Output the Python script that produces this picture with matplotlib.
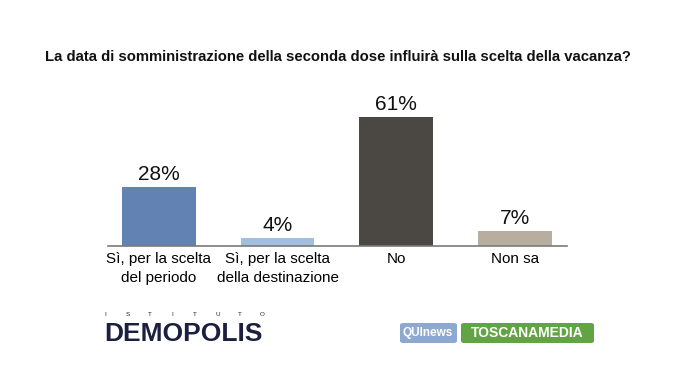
import matplotlib.pyplot as plt
from matplotlib.patches import FancyBboxPatch

categories = ['Sì, per la scelta\ndel periodo', 'Sì, per la scelta\ndella destinazione', 'No', 'Non sa']
values = [28, 4, 61, 7]
colors = ['#6282b4', '#a3bfe0', '#4b4844', '#b8aea0']

title = 'La data di somministrazione della seconda dose influirà sulla scelta della vacanza?'

plt.rcParams['font.family'] = ['Liberation Sans', 'DejaVu Sans']

fig = plt.figure(figsize=(6.75, 3.8), dpi=100)
fig.patch.set_facecolor('white')
ax = fig.add_axes([108 / 675, (380 - 246) / 380, 459 / 675, 148 / 380])

x = range(len(values))
ax.bar(x, values, width=0.62, color=colors, zorder=2)
ax.set_xlim(-0.43, 3.44)
ax.set_ylim(0, 70)

for xi, v in zip(x, values):
    ax.text(xi, v + 1.3, f'{v}%', ha='center', va='bottom', fontsize=15, color='#111111')

for s in ['top', 'right', 'left']:
    ax.spines[s].set_visible(False)
ax.spines['bottom'].set_color('#7a7a7a')
ax.spines['bottom'].set_linewidth(1.2)
ax.set_yticks([])
ax.set_xticks(list(x))
ax.set_xticklabels(categories, fontsize=11, linespacing=1.45)
ax.tick_params(axis='x', length=0, pad=4)

fig.text(0.5, 1 - 57 / 380, title, ha='center', va='center', fontsize=10.7,
         fontweight='bold', color='#111111')

# logos as text
for i, ch in enumerate('ISTITUTO'):
    fig.text((105 + i * 22.5) / 675, 1 - 315 / 380, ch, ha='center', va='center',
             fontsize=4.5, color='#1c1f3f')
fig.text(183 / 675, 1 - 334 / 380, 'DEMOPOLIS', ha='center', va='center', fontsize=19,
         fontweight='heavy', color='#1c1f3f')

qui = FancyBboxPatch((400 / 675, 1 - 343 / 380), 57 / 675, 20 / 380,
                     boxstyle='round,pad=0,rounding_size=0.005', transform=fig.transFigure,
                     facecolor='#8ea9cf', edgecolor='none')
fig.patches.append(qui)
fig.text(428 / 675, 1 - 333 / 380, 'QUInews', ha='center', va='center', fontsize=8.5,
         fontweight='bold', color='white')
tm = FancyBboxPatch((461 / 675, 1 - 343 / 380), 133 / 675, 20 / 380,
                    boxstyle='round,pad=0,rounding_size=0.005', transform=fig.transFigure,
                    facecolor='#62a444', edgecolor='none')
fig.patches.append(tm)
fig.text(527 / 675, 1 - 333 / 380, 'TOSCANAMEDIA', ha='center', va='center', fontsize=10,
         fontweight='bold', color='white')

fig.savefig('out.png', dpi=100, facecolor='white')
